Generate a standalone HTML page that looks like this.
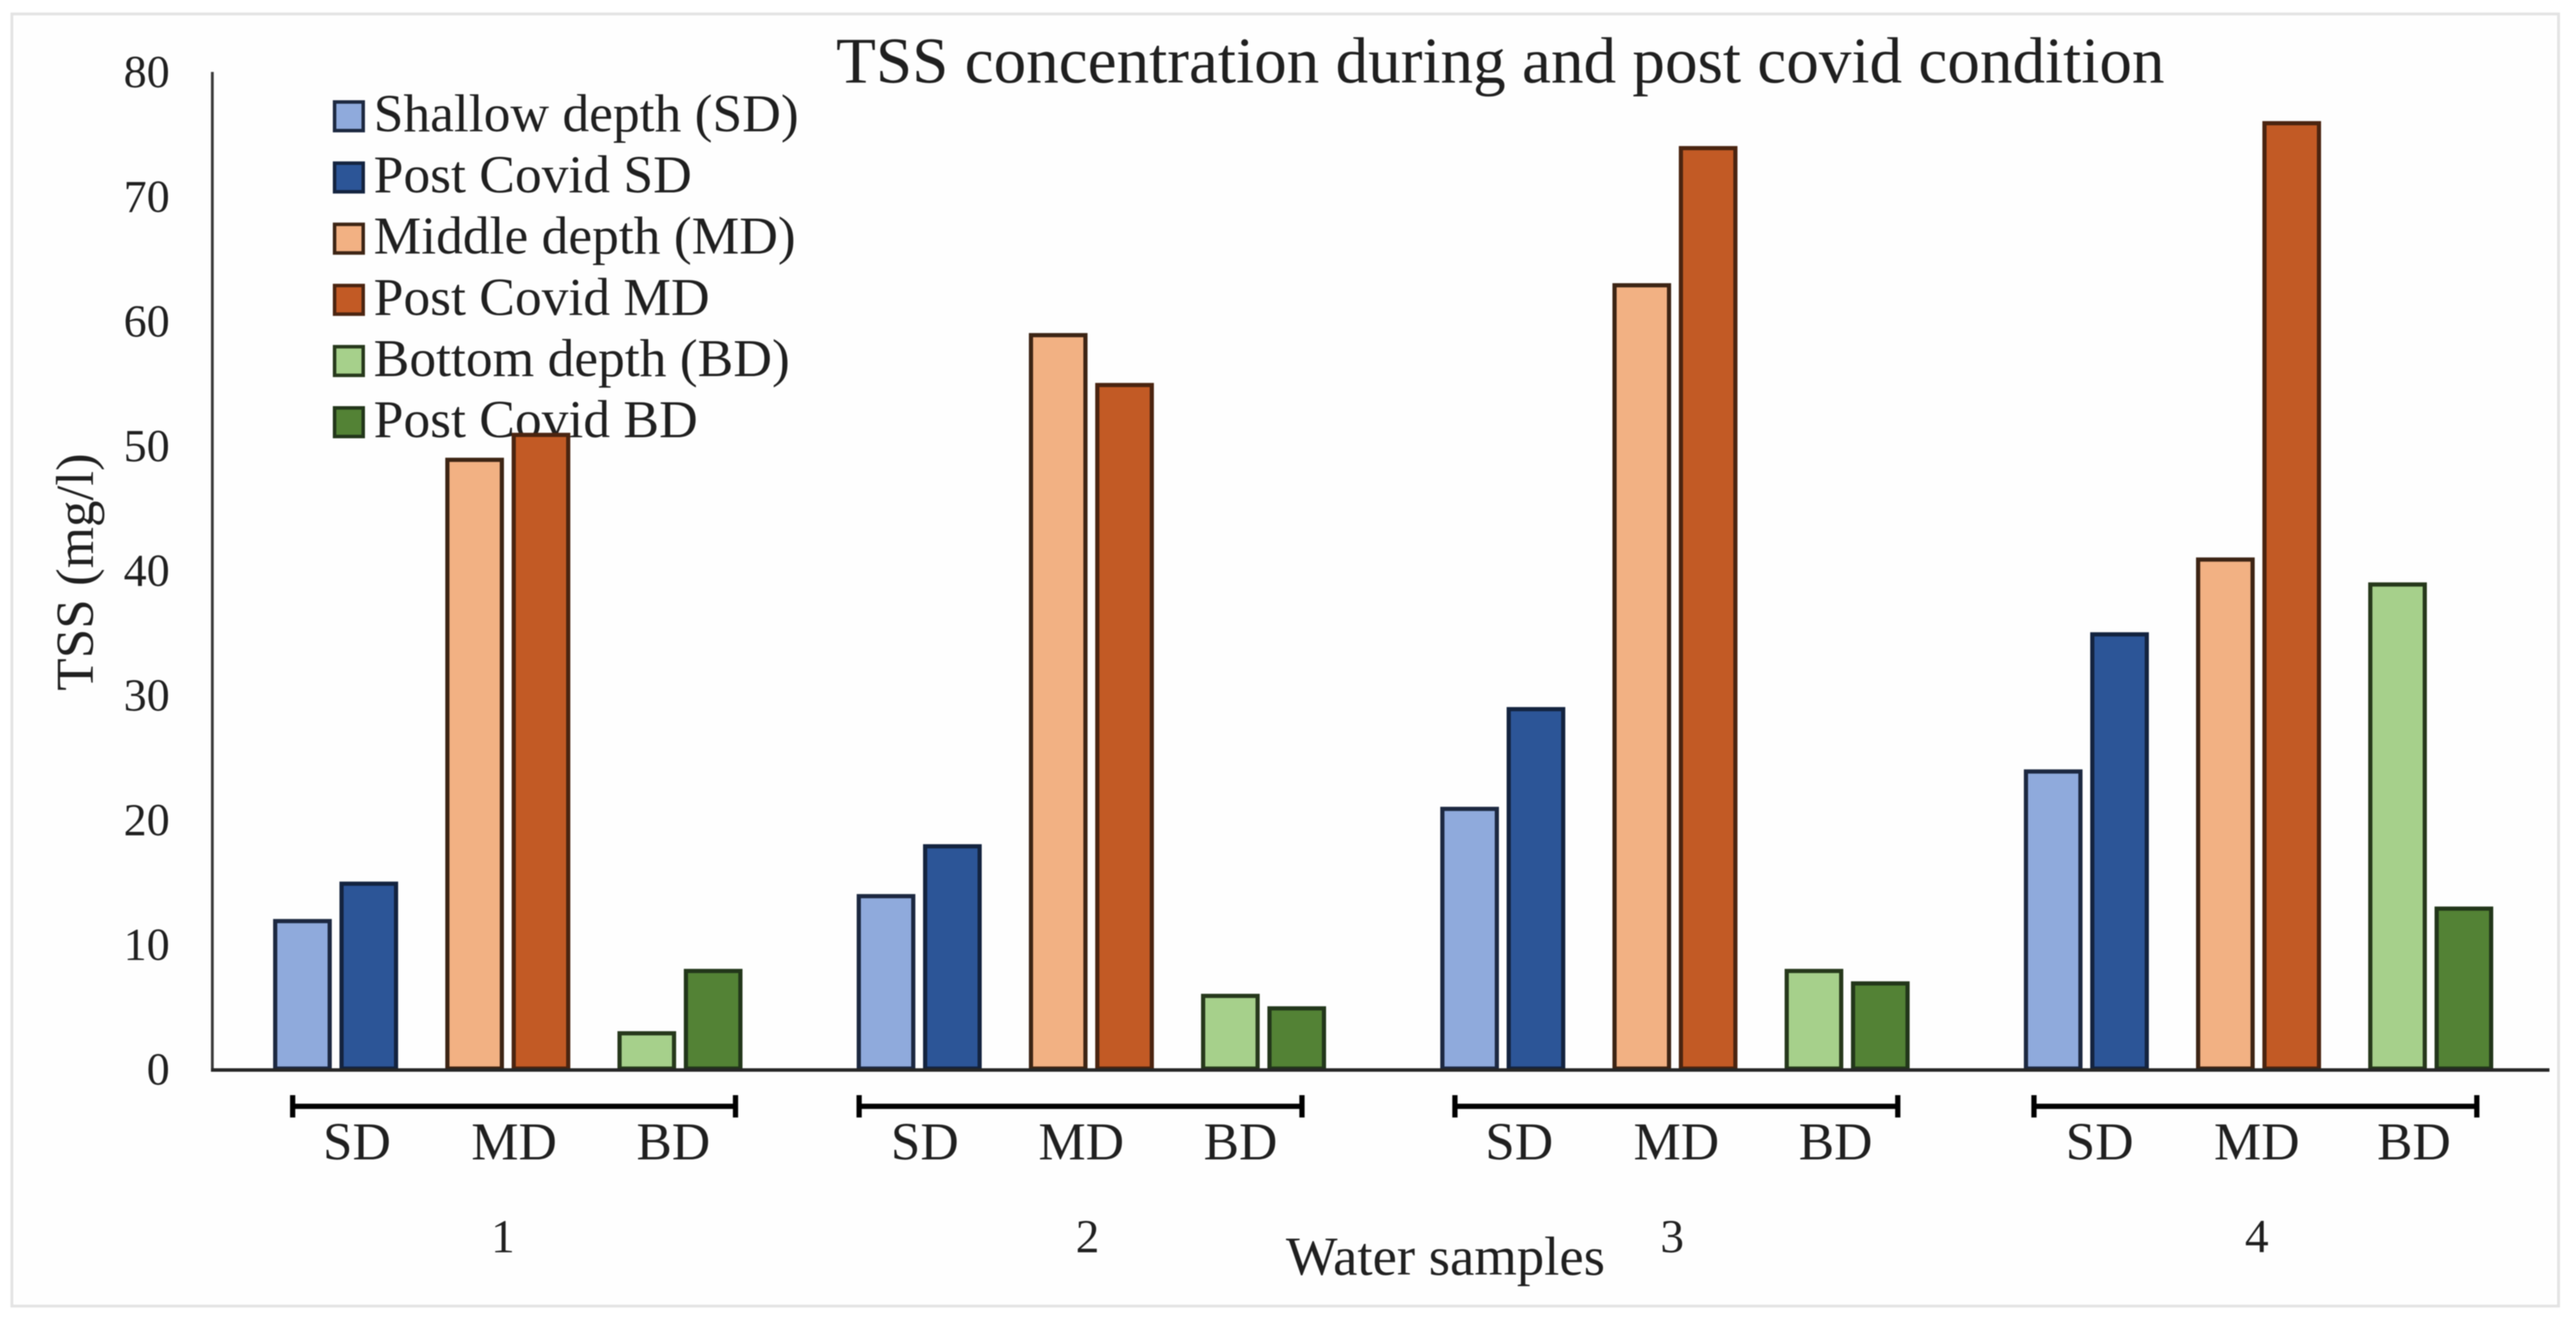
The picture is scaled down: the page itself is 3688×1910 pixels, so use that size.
<!DOCTYPE html>
<html lang="en">
<head>
<meta charset="utf-8">
<title>TSS concentration during and post covid condition</title>
<style>
  html, body { margin: 0; padding: 0; background: #ffffff; }
  body { width: 3688px; height: 1910px; overflow: hidden; }
  svg { display: block; filter: blur(0.9px); }
  text { font-family: "Liberation Serif", serif; fill: #1f1f1f; }
</style>
</head>
<body>
<svg id="chart" xmlns="http://www.w3.org/2000/svg" width="3688" height="1910" viewBox="0 0 3688 1910">
  <rect x="17" y="20" width="3646" height="1850" fill="#fefefe" stroke="#e3e3e3" stroke-width="4"/>
  <text x="1197" y="118" font-size="93.3">TSS concentration during and post covid condition</text>
  <text transform="translate(133 819) rotate(-90)" text-anchor="middle" font-size="76">TSS (mg/l)</text>
  <text x="1841" y="1825" font-size="78.3">Water samples</text>
  <g id="legend"></g>
  <g id="y-ticks"></g>
  <g id="bars"></g>
  <line x1="304" y1="103" x2="304" y2="1532" stroke="#3a3a3a" stroke-width="4"/>
  <line x1="302" y1="1532" x2="3650" y2="1532" stroke="#262626" stroke-width="5"/>
  <g id="x-ticks"></g>

  <g>
    <path d="M419 1568V1600M419 1584H1053M1053 1568V1600" fill="none" stroke="#000" stroke-width="7.5"/>
    <text x="511" y="1660" text-anchor="middle" font-size="76">SD</text>
    <text x="736" y="1660" text-anchor="middle" font-size="76">MD</text>
    <text x="964" y="1660" text-anchor="middle" font-size="76">BD</text>
  </g>
  <g>
    <path d="M1230 1568V1600M1230 1584H1864M1864 1568V1600" fill="none" stroke="#000" stroke-width="7.5"/>
    <text x="1324" y="1660" text-anchor="middle" font-size="76">SD</text>
    <text x="1548" y="1660" text-anchor="middle" font-size="76">MD</text>
    <text x="1776" y="1660" text-anchor="middle" font-size="76">BD</text>
  </g>
  <g>
    <path d="M2083 1568V1600M2083 1584H2717M2717 1568V1600" fill="none" stroke="#000" stroke-width="7.5"/>
    <text x="2175" y="1660" text-anchor="middle" font-size="76">SD</text>
    <text x="2400" y="1660" text-anchor="middle" font-size="76">MD</text>
    <text x="2628" y="1660" text-anchor="middle" font-size="76">BD</text>
  </g>
  <g>
    <path d="M2912 1568V1600M2912 1584H3546M3546 1568V1600" fill="none" stroke="#000" stroke-width="7.5"/>
    <text x="3006" y="1660" text-anchor="middle" font-size="76">SD</text>
    <text x="3231" y="1660" text-anchor="middle" font-size="76">MD</text>
    <text x="3456" y="1660" text-anchor="middle" font-size="76">BD</text>
  </g>
</svg>
<script>
const sampleLabels = ['1', '2', '3', '4'];
const yTickLabels = [0, 10, 20, 30, 40, 50, 60, 70, 80];
const shallowDepth = [12, 14, 21, 24];
const postCovidShallow = [15, 18, 29, 35];
const middleDepth = [49, 59, 63, 41];
const postCovidMiddle = [51, 55, 74, 76];
const bottomDepth = [3, 6, 8, 39];
const postCovidBottom = [8, 5, 7, 13];
const seriesNames = ['Shallow depth (SD)', 'Post Covid SD', 'Middle depth (MD)', 'Post Covid MD', 'Bottom depth (BD)', 'Post Covid BD'];

const seriesValues = [shallowDepth, postCovidShallow, middleDepth, postCovidMiddle, bottomDepth, postCovidBottom];
const seriesFills = ['#8faadc', '#2c5597', '#f2b183', '#c25a25', '#a6d08b', '#538235'];
const seriesStrokes = ['#1c2840', '#13233f', '#3c2414', '#4a2410', '#26381b', '#22361a'];

const SVG_NS = 'http://www.w3.org/2000/svg';
const BAR_WIDTH = 84;
const BAR_STROKE = 6;

function yScale(value) {
  return 1530 - value * 17.85;
}
function groupLeft(groupIndex) {
  return 391 + groupIndex * 835.5;
}
function barLeft(groupIndex, seriesIndex) {
  const depthPair = Math.floor(seriesIndex / 2);
  const pairMember = seriesIndex % 2;
  return groupLeft(groupIndex) + depthPair * 246.5 + pairMember * 95;
}
function sampleLabelCenter(groupIndex) {
  return 720 + groupIndex * 837;
}
function make(tag, props) {
  const node = document.createElementNS(SVG_NS, tag);
  Object.keys(props).forEach(function (key) { node.setAttribute(key, props[key]); });
  return node;
}
function slug(name) {
  return name.toLowerCase().replace(/[^a-z0-9]+/g, '-').replace(/-$/, '');
}

const yTickGroup = document.getElementById('y-ticks');
yTickLabels.forEach(function (tick) {
  const el = make('text', { x: 243, y: yScale(tick) + 23, 'text-anchor': 'end', 'font-size': 66 });
  
  
  el.textContent = String(tick);
  yTickGroup.appendChild(el);
});

const xTickGroup = document.getElementById('x-ticks');
sampleLabels.forEach(function (label, groupIndex) {
  const el = make('text', { x: sampleLabelCenter(groupIndex), y: 1793, 'text-anchor': 'middle', 'font-size': 68 });
  
  
  el.textContent = label;
  xTickGroup.appendChild(el);
});

const legendGroup = document.getElementById('legend');
seriesNames.forEach(function (name, seriesIndex) {
  const rowTop = 144 + seriesIndex * 87.6;
  const swatch = make('rect', { x: 479, y: rowTop + 2, width: 41, height: 41, fill: seriesFills[seriesIndex], stroke: seriesStrokes[seriesIndex], 'stroke-width': 5 });
  
  
  legendGroup.appendChild(swatch);
  const label = make('text', { x: 535, y: rowTop + 44, 'font-size': 76.6 });
  
  
  label.textContent = name;
  legendGroup.appendChild(label);
});

const barGroup = document.getElementById('bars');
seriesValues.forEach(function (values, seriesIndex) {
  values.forEach(function (value, groupIndex) {
    const top = yScale(value);
    const bar = make('rect', {
      x: barLeft(groupIndex, seriesIndex) + BAR_STROKE / 2,
      y: top + BAR_STROKE / 2,
      width: BAR_WIDTH - BAR_STROKE,
      height: yScale(0) - top - BAR_STROKE / 2,
      fill: seriesFills[seriesIndex],
      stroke: seriesStrokes[seriesIndex],
      'stroke-width': BAR_STROKE
    });
    
    
    barGroup.appendChild(bar);
  });
});
</script>
</body>
</html>
